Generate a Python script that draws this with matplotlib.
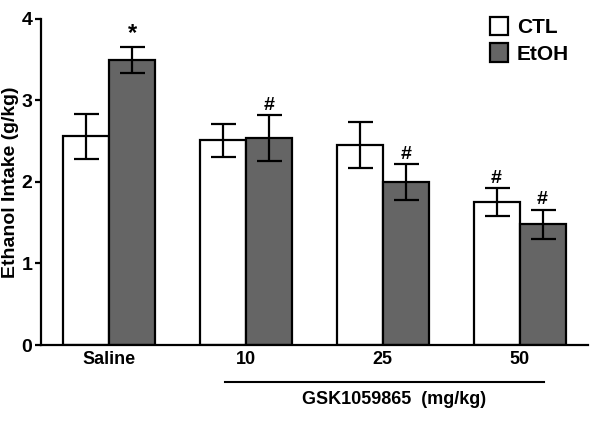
import matplotlib.pyplot as plt
import numpy as np

plt.rcParams['font.family'] = ['Liberation Sans', 'DejaVu Sans']
plt.rcParams['font.weight'] = 'bold'

# Data
doses = ['Saline', '10', '25', '50']
ctl_mean = [2.56, 2.51, 2.45, 1.75]
ctl_sem = [0.28, 0.20, 0.28, 0.17]
etoh_mean = [3.50, 2.54, 2.00, 1.48]
etoh_sem = [0.16, 0.28, 0.22, 0.18]
ctl_marks = ['', '', '', '#']
etoh_marks = ['*', '#', '#', '#']

x = np.arange(len(doses))
width = 0.336

fig = plt.figure(figsize=(6, 4.21), dpi=100)
ax = fig.add_axes([0.068, 0.1805, 0.912, 0.7745])

err_kw = dict(ecolor='black', elinewidth=1.6, capsize=9, capthick=1.6)
ax.bar(x - width/2, ctl_mean, width, yerr=ctl_sem, color='white',
       edgecolor='black', linewidth=1.6, label='CTL', error_kw=err_kw)
ax.bar(x + width/2, etoh_mean, width, yerr=etoh_sem, color='#656565',
       edgecolor='black', linewidth=1.6, label='EtOH', error_kw=err_kw)

for i in range(len(doses)):
    if ctl_marks[i]:
        ax.annotate(ctl_marks[i], (x[i] - width/2, ctl_mean[i] + ctl_sem[i]),
                    xytext=(0, 1), textcoords='offset points',
                    ha='center', va='bottom', fontsize=14, fontweight='bold')
    if etoh_marks[i]:
        fs = 17 if etoh_marks[i] == '*' else 14
        ax.annotate(etoh_marks[i], (x[i] + width/2, etoh_mean[i] + etoh_sem[i]),
                    xytext=(0, 1), textcoords='offset points',
                    ha='center', va='bottom', fontsize=fs, fontweight='bold')

ax.set_xlim(-0.5, 3.5)
ax.set_ylim(0, 4)
ax.set_yticks([0, 1, 2, 3, 4])
ax.set_xticks(x, doses)
ax.tick_params(axis='x', length=0, labelsize=13, pad=4)
ax.tick_params(axis='y', length=4, width=1.6, labelsize=14, pad=2)
for lab in ax.get_xticklabels() + ax.get_yticklabels():
    lab.set_fontweight('bold')
ax.set_ylabel('Ethanol Intake (g/kg)', fontsize=14, fontweight='bold', labelpad=2)

for s in ['top', 'right']:
    ax.spines[s].set_visible(False)
for s in ['left', 'bottom']:
    ax.spines[s].set_linewidth(1.6)

# dose bracket
ax.plot([0.85, 3.18], [-0.45, -0.45], color='black', lw=1.5, clip_on=False,
        transform=ax.transData)
ax.text(2.08, -0.67, 'GSK1059865  (mg/kg)', ha='center', va='center',
        fontsize=13, fontweight='bold', transform=ax.transData)

leg = ax.legend(loc='upper right', bbox_to_anchor=(1.0, 1.065), frameon=False,
                fontsize=15, handlelength=0.85, handleheight=1.0,
                handletextpad=0.45, labelspacing=0.3)

fig.savefig('out.png', dpi=100)
